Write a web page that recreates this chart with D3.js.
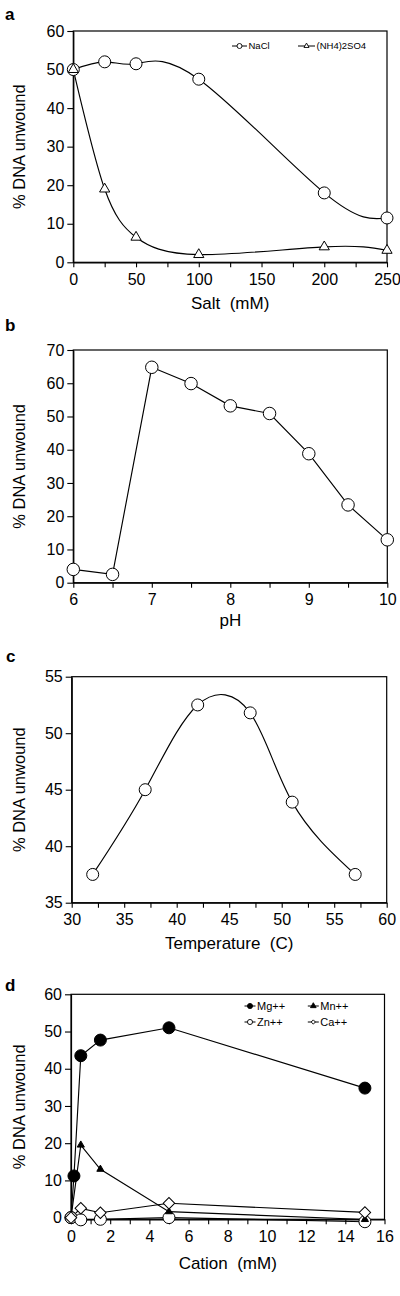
<!DOCTYPE html>
<html><head><meta charset="utf-8">
<script src="https://cdn.jsdelivr.net/npm/d3@7"></script>
<style>body{margin:0;background:#fff}svg{display:block}text{font-family:"Liberation Sans",Arial,sans-serif;fill:#000;white-space:pre}</style>
</head><body>
<svg id="c" width="400" height="1296"></svg>
<script>
// ---- data ----
const saltX = [0, 25, 50, 100, 200, 250];
const naclY = [50, 52, 51.5, 47.5, 18, 11.5];
const nh4Y  = [50, 19, 6.5, 2, 4, 3.1];
const phX   = [6, 6.5, 7, 7.5, 8, 8.5, 9, 9.5, 10];
const phY   = [4, 2.5, 64.8, 59.9, 53.2, 50.9, 38.8, 23.4, 12.9];
const tempX = [32, 37, 42, 47, 51, 57];
const tempY = [37.5, 45, 52.5, 51.8, 43.9, 37.5];
const mgX   = [0, 0.15, 0.5, 1.5, 5, 15];
const mgY   = [0, 11.2, 43.5, 47.7, 51, 34.8];
const cationX = [0, 0.5, 1.5, 5, 15];
const mnY   = [0, 19.5, 13, 1.6, -0.5];
const znY   = [0, -0.6, -0.45, 0, -1.1];
const caY   = [0, 2.5, 1.3, 3.85, 1.4];
const saltTicks = [0, 25, 50, 75, 100, 125, 150, 175, 200, 225, 250];
const phTicks = [6, 6.5, 7, 7.5, 8, 8.5, 9, 9.5, 10];
const tempTicks = [30, 32.5, 35, 37.5, 40, 42.5, 45, 47.5, 50, 52.5, 55, 57.5, 60];
const cationTicks = [0,1,2,3,4,5,6,7,8,9,10,11,12,13,14,15,16];
const panelLetters = ["a", "b", "c", "d"];
const xTitles = ["Salt  (mM)", "pH", "Temperature  (C)", "Cation  (mM)"];
const yTitle = "% DNA unwound";
const legendA = ["NaCl", "(NH4)2SO4"];
const legendD = ["Mg++", "Mn++", "Zn++", "Ca++"];

const svg = d3.select("#c");
const zip = (xs, ys) => xs.map((x, i) => [x, ys[i]]);

const panels = [
  {xd:[0,250], yd:[0,60], xr:[73.3,387], yr:[262.3,31], xt:saltTicks, lab:d=>d%50===0?d:"", yt:d3.range(0,61,10), toff:47, L:[5,20]},
  {xd:[6,10], yd:[0,70], xr:[73.3,387.3], yr:[582.7,350], xt:phTicks, lab:d=>Number.isInteger(d)?d:"", yt:d3.range(0,71,10), toff:43, L:[5,331]},
  {xd:[30,60], yd:[35,55], xr:[71.7,386.7], yr:[902.7,676.7], xt:tempTicks, lab:d=>d%5===0?d:"", yt:d3.range(35,56,5), toff:46, L:[6,662]},
  {xd:[0,16], yd:[-0.45,60], xr:[71,384.5], yr:[1219.3,994.3], xt:cationTicks, lab:d=>d%2===0?d:"", yt:d3.range(0,61,10), toff:50, L:[5,991]}
];

panels.forEach((p, i) => {
  p.x = d3.scaleLinear().domain(p.xd).range(p.xr);
  p.y = d3.scaleLinear().domain(p.yd).range(p.yr);
  const g = svg.append("g");
  p.g = g;
  g.append("rect").attr("x", p.xr[0]).attr("y", p.yr[1])
    .attr("width", p.xr[1]-p.xr[0]).attr("height", p.yr[0]-p.yr[1])
    .attr("fill","none").attr("stroke","#000").attr("stroke-width",1.2);
  const xa = g.append("g").attr("transform",`translate(0,${p.yr[0]})`)
    .call(d3.axisBottom(p.x).tickValues(p.xt).tickFormat(p.lab).tickSize(5).tickPadding(6).tickSizeOuter(0));
  const ya = g.append("g").attr("transform",`translate(${p.xr[0]},0)`)
    .call(d3.axisLeft(p.y).tickValues(p.yt).tickSize(6).tickPadding(3).tickSizeOuter(0));
  [xa, ya].forEach(a => {
    a.select(".domain").attr("stroke","#000").attr("stroke-width",1.2);
    a.selectAll(".tick line").attr("stroke","#000").attr("stroke-width",1.1);
    a.selectAll("text").attr("font-size","16px").attr("fill","#000").attr("font-family","'Liberation Sans',Arial,sans-serif");
  });
  g.append("text").attr("x",(p.xr[0]+p.xr[1])/2).attr("y",p.yr[0]+p.toff)
    .attr("text-anchor","middle").attr("font-size","17px").text(xTitles[i]);
  g.append("text").attr("transform",`translate(25,${(p.yr[0]+p.yr[1])/2}) rotate(-90)`)
    .attr("text-anchor","middle").attr("font-size","16.5px").text(yTitle);
  g.append("text").attr("x",p.L[0]).attr("y",p.L[1]).attr("font-size","17px")
    .attr("font-weight","bold").text(panelLetters[i]);
});

function line(p, data, curve) {
  p.g.append("path").datum(data)
    .attr("d", d3.line().x(d=>p.x(d[0])).y(d=>p.y(d[1])).curve(curve))
    .attr("fill","none").attr("stroke","#000").attr("stroke-width",1.15);
}
function marks(p, data, type, size, fill, rot) {
  p.g.selectAll(null).data(data).enter().append("path")
    .attr("d", d3.symbol().type(type).size(size)())
    .attr("transform", d=>`translate(${p.x(d[0])},${p.y(d[1])})${rot?` rotate(${rot})`:""}`)
    .attr("fill", fill).attr("stroke","#000").attr("stroke-width",1);
}
function legendItem(g, x, y, type, size, fill, rot, label, fs, len) {
  g.append("line").attr("x1",x-len/2).attr("x2",x+len/2).attr("y1",y).attr("y2",y)
    .attr("stroke","#000").attr("stroke-width",1);
  g.append("path").attr("d", d3.symbol().type(type).size(size)())
    .attr("transform",`translate(${x},${y})${rot?` rotate(${rot})`:""}`)
    .attr("fill",fill).attr("stroke","#000").attr("stroke-width",0.9);
  g.append("text").attr("x",x+len/2+1.5).attr("y",y+fs*0.36).attr("font-size",fs+"px").text(label);
}

// panel a
const A = panels[0];
line(A, zip(saltX, naclY), d3.curveNatural);
line(A, zip(saltX, nh4Y), d3.curveNatural);
marks(A, zip(saltX, naclY), d3.symbolCircle, Math.PI*36, "#fff");
marks(A, zip(saltX, nh4Y), d3.symbolTriangle, 45, "#fff");
legendItem(A.g, 239.5, 46, d3.symbolCircle, Math.PI*6.25, "#fff", 0, legendA[0], 9.5, 15);
legendItem(A.g, 306.5, 46, d3.symbolTriangle, 11, "#fff", 0, legendA[1], 9.5, 17);

// panel b
const B = panels[1];
line(B, zip(phX, phY), d3.curveLinear);
marks(B, zip(phX, phY), d3.symbolCircle, Math.PI*39, "#fff");

// panel c
const C = panels[2];
line(C, zip(tempX, tempY), d3.curveNatural);
marks(C, zip(tempX, tempY), d3.symbolCircle, Math.PI*36, "#fff");

// panel d
const D = panels[3];
line(D, zip(cationX, znY), d3.curveLinear);
line(D, zip(cationX, caY), d3.curveLinear);
line(D, zip(cationX, mnY), d3.curveLinear);
line(D, zip(mgX, mgY), d3.curveLinear);
marks(D, zip(mgX, mgY), d3.symbolCircle, Math.PI*36, "#000");
marks(D, zip(cationX, znY), d3.symbolCircle, Math.PI*36, "#fff");
marks(D, zip(cationX, mnY), d3.symbolTriangle, 22, "#000");
marks(D, zip(cationX, caY), d3.symbolSquare, 66, "#fff", 45);
legendItem(D.g, 250, 1006, d3.symbolCircle, Math.PI*6.5, "#000", 0, legendD[0], 11, 11);
legendItem(D.g, 313.3, 1006, d3.symbolTriangle, 14, "#000", 0, legendD[1], 11, 11);
legendItem(D.g, 250, 1022, d3.symbolCircle, Math.PI*6.5, "#fff", 0, legendD[2], 11, 11);
legendItem(D.g, 313.3, 1022, d3.symbolSquare, 9, "#fff", 45, legendD[3], 11, 11);
</script>
</body></html>
